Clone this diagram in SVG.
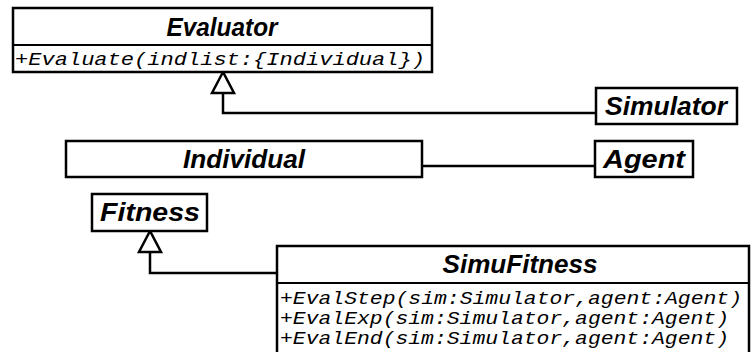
<svg xmlns="http://www.w3.org/2000/svg" width="752" height="352" viewBox="0 0 752 352">
<style>
.box{fill:#fff;stroke:#000;stroke-width:2.5}
.sep{stroke:#000;stroke-width:2}
.title{font-family:"Liberation Sans",Arial,sans-serif;font-weight:bold;font-style:italic;font-size:26px;text-anchor:middle;fill:#000}
.op{font-family:"Liberation Mono","Courier New",monospace;font-style:italic;font-size:19px;fill:#000}
.conn{fill:none;stroke:#000;stroke-width:2.5}
.tri{fill:#fff;stroke:#000;stroke-width:2.5;stroke-linejoin:miter}
</style>
<rect width="752" height="352" fill="#fff"/>
<g id="connectors">
<polyline class="conn" points="223,93 223,113 596,113"/>
<polygon class="tri" points="223,72 212,93 234,93"/>
<line class="conn" x1="422" y1="166" x2="595" y2="166"/>
<polyline class="conn" points="150,252 150,273 277,273"/>
<polygon class="tri" points="150,231 139,252 161,252"/>
</g>
<g id="Evaluator">
<rect class="box" x="13" y="8" width="419" height="64"/>
<line class="sep" x1="13" y1="45" x2="432" y2="45"/>
<text class="title" x="222" y="36" textLength="111" lengthAdjust="spacingAndGlyphs">Evaluator</text>
<text class="op" x="15" y="65" textLength="410" lengthAdjust="spacingAndGlyphs">+Evaluate(indlist:{Individual})</text>
</g>
<g id="Simulator">
<rect class="box" x="596" y="88" width="141" height="36"/>
<text class="title" x="666" y="115" textLength="122" lengthAdjust="spacingAndGlyphs">Simulator</text>
</g>
<g id="Individual">
<rect class="box" x="66" y="141" width="356" height="36"/>
<text class="title" x="244" y="168" textLength="122" lengthAdjust="spacingAndGlyphs">Individual</text>
</g>
<g id="Agent">
<rect class="box" x="595" y="141" width="98" height="36"/>
<text class="title" x="644" y="168" textLength="82" lengthAdjust="spacingAndGlyphs">Agent</text>
</g>
<g id="Fitness">
<rect class="box" x="92" y="194" width="115" height="37"/>
<text class="title" x="150" y="221" textLength="100" lengthAdjust="spacingAndGlyphs">Fitness</text>
</g>
<g id="SimuFitness">
<rect class="box" x="277" y="246" width="472" height="110"/>
<line class="sep" x1="277" y1="283" x2="749" y2="283"/>
<text class="title" x="520" y="273" textLength="155" lengthAdjust="spacingAndGlyphs">SimuFitness</text>
<text class="op" x="280" y="304" textLength="462" lengthAdjust="spacingAndGlyphs">+EvalStep(sim:Simulator,agent:Agent)</text>
<text class="op" x="280" y="324" textLength="449" lengthAdjust="spacingAndGlyphs">+EvalExp(sim:Simulator,agent:Agent)</text>
<text class="op" x="280" y="344" textLength="449" lengthAdjust="spacingAndGlyphs">+EvalEnd(sim:Simulator,agent:Agent)</text>
</g>
</svg>
